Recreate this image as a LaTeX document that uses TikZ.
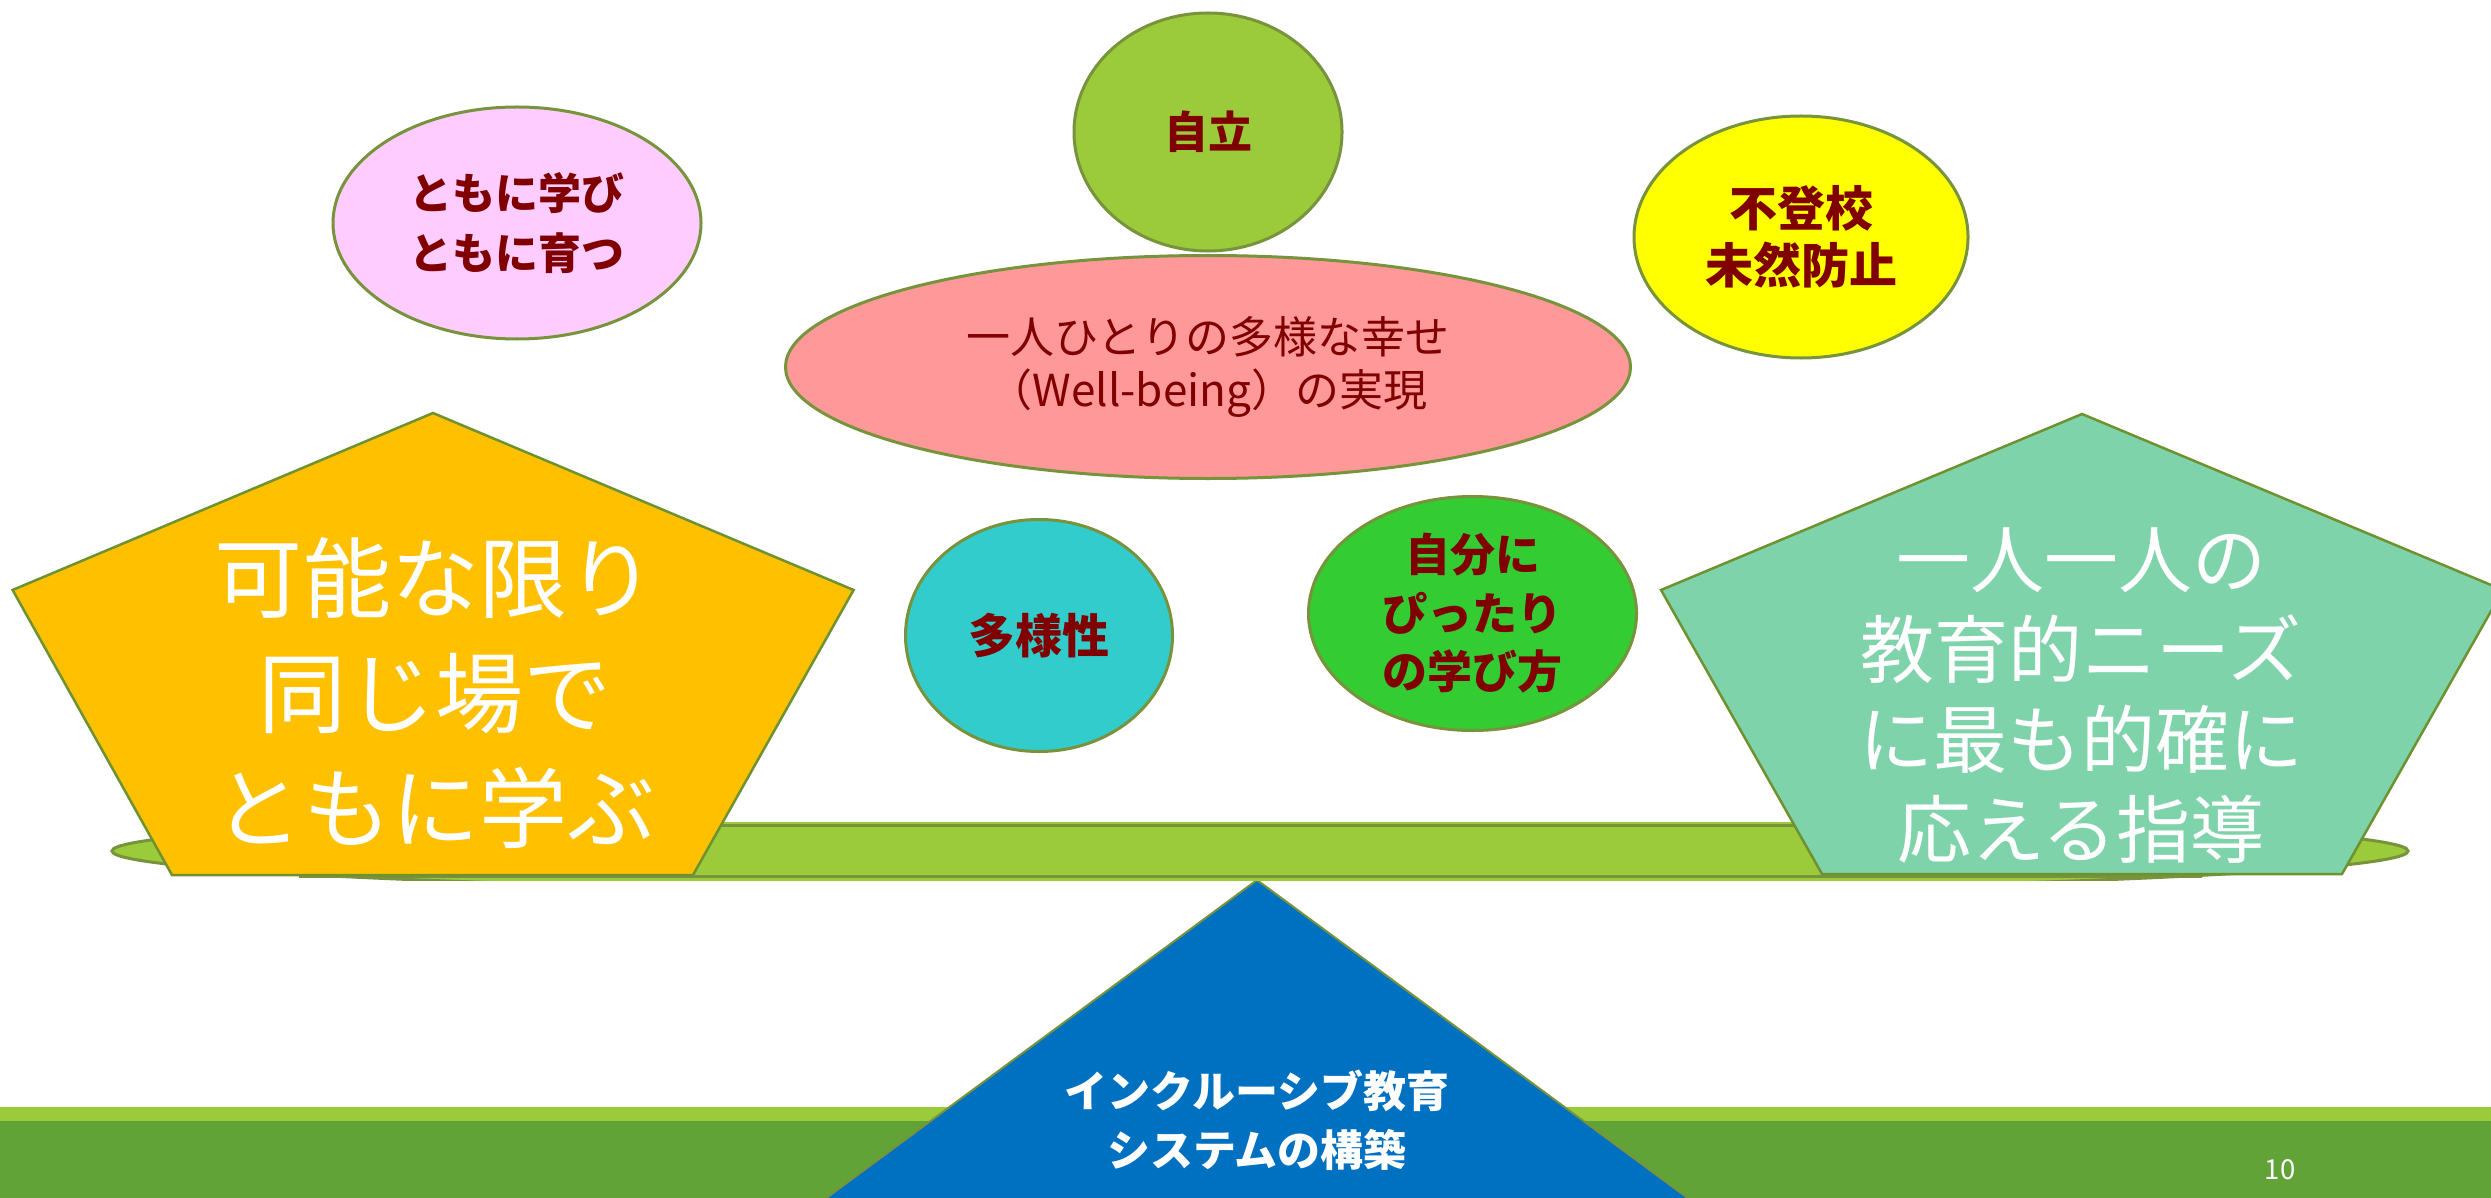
\documentclass[tikz,border=0pt]{standalone}
\usepackage{fontspec}
\newfontfamily\jp{Noto Sans CJK JP}
\usetikzlibrary{shapes.geometric}
\definecolor{olive}{HTML}{77933C}
\definecolor{olivedark}{HTML}{6E9230}
\definecolor{bandgreen}{HTML}{9BCB3B}
\definecolor{darkgreen}{HTML}{62A337}
\definecolor{orangeY}{HTML}{FFC000}
\definecolor{mint}{HTML}{7FD3AA}
\definecolor{blueT}{HTML}{0070C0}
\definecolor{dred}{HTML}{800000}
\definecolor{pinkL}{HTML}{FFCCFF}
\definecolor{salmon}{HTML}{FF9999}
\definecolor{cyanB}{HTML}{33CCCC}
\definecolor{greenB}{HTML}{33CC33}
\definecolor{yellowB}{HTML}{FFFF00}
\begin{document}
\begin{tikzpicture}[x=0.4pt,y=-0.4pt,
  bubble/.style={ellipse, draw=olive, line width=1.2pt, inner sep=0pt, outer sep=0pt, align=center, text=dred},
  pent/.style={draw=olivedark, line width=1pt, line join=miter},
  bigtext/.style={text=white, align=center, inner sep=0pt}]
\useasboundingbox (0,0) rectangle (2491,1198);
\fill[white] (0,0) rectangle (2491,1198);
\begin{scope}
\clip (0,0) rectangle (2491,1198);
% bottom bands
\fill[bandgreen] (0,1107) rectangle (2491,1121);
\fill[darkgreen] (0,1121) rectangle (2491,1198);
% fulcrum triangle
\coordinate (tA) at (1257,880);
\coordinate (tL) at (810,1210);
\coordinate (tR) at (1704,1210);
\draw[fill=blueT, draw=olive, line width=0.8pt] (tA) -- (tR) -- (tL) -- cycle;
\node[bigtext, font=\jp\bfseries\fontsize{17.2pt}{23.6pt}\selectfont] (tritext) at (1257,1120) {インクルーシブ教育\\システムの構築};
% seesaw beam
\begin{scope}
\clip (0,822) rectangle (2491,880);
\node[ellipse, fill=bandgreen, draw=olive, line width=1.2pt, minimum width=918.4pt, minimum height=34pt, inner sep=0pt] (disc) at (1260,851) {};
\end{scope}
\coordinate (bTL) at (300,825);
\coordinate (bBR) at (2200,876);
\draw[fill=bandgreen, draw=olive, line width=1.2pt] (bTL) rectangle (bBR);
% left pentagon
\coordinate (lA) at (433,413);
\coordinate (lR) at (853.6,590);
\coordinate (lBR) at (693,875);
\coordinate (lBL) at (172,875);
\coordinate (lL) at (12.6,590);
\draw[pent, fill=orangeY] (lA) -- (lR) -- (lBR) -- (lBL) -- (lL) -- cycle;
\node[bigtext, font=\jp\fontsize{35.2pt}{46pt}\selectfont] (lefttext) at (435,693) {可能な限り\\同じ場で\\ともに学ぶ};
% right pentagon
\coordinate (rA) at (2082,414);
\coordinate (rR) at (2503,590);
\coordinate (rBR) at (2342,874);
\coordinate (rBL) at (1822,874);
\coordinate (rL) at (1661,590);
\draw[pent, fill=mint] (rA) -- (rR) -- (rBR) -- (rBL) -- (rL) -- cycle;
\node[bigtext, font=\jp\fontsize{29.6pt}{36pt}\selectfont] (righttext) at (2081,696) {一人一人の\\教育的ニーズ\\に最も的確に\\応える指導};
\end{scope}
% bubbles
\node[bubble, fill=pinkL, minimum width=147.2pt, minimum height=92.8pt, font=\jp\bfseries\fontsize{17.2pt}{24pt}\selectfont] (tomoni) at (517,223) {ともに学び\\ともに育つ};
\node[bubble, fill=bandgreen, minimum width=107.2pt, minimum height=95.2pt, font=\jp\bfseries\fontsize{17.6pt}{22pt}\selectfont] (jiritsu) at (1208,132) {自立};
\node[bubble, fill=salmon, minimum width=338pt, minimum height=89.2pt, font=\jp\fontsize{17.6pt}{21.2pt}\selectfont] (well) at (1208,367) {一人ひとりの多様な幸せ\\（Well-being）の実現};
\node[bubble, fill=yellowB, minimum width=133.6pt, minimum height=96.8pt, font=\jp\bfseries\fontsize{19.2pt}{22.8pt}\selectfont] (futoko) at (1801,237) {不登校\\未然防止};
\node[bubble, fill=greenB, minimum width=131.2pt, minimum height=93.6pt, font=\jp\bfseries\fontsize{18pt}{23.4pt}\selectfont] (jibun) at (1472.5,613.5) {自分に\\ぴったり\\の学び方};
\node[bubble, fill=cyanB, minimum width=106.8pt, minimum height=92.8pt, font=\jp\bfseries\fontsize{18.8pt}{22pt}\selectfont] (tayo) at (1039,635.5) {多様性};
% page number
\node[text=white, font=\jp\fontsize{11pt}{13pt}\selectfont, inner sep=0pt] (pnum) at (2280,1170) {10};
\end{tikzpicture}
\end{document}
